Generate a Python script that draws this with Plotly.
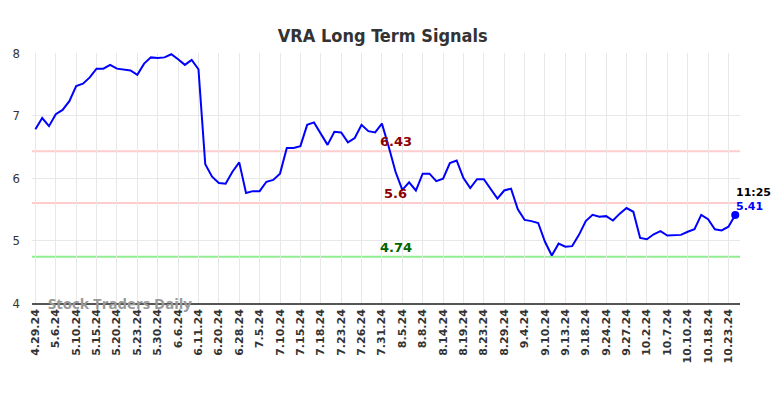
import plotly.graph_objects as go

tick_labels = ["4.29.24", "5.6.24", "5.10.24", "5.15.24", "5.20.24", "5.23.24", "5.30.24",
               "6.6.24", "6.11.24", "6.20.24", "6.28.24", "7.5.24", "7.10.24", "7.15.24",
               "7.18.24", "7.23.24", "7.26.24", "7.31.24", "8.5.24", "8.8.24", "8.14.24",
               "8.19.24", "8.23.24", "8.29.24", "9.4.24", "9.10.24", "9.13.24", "9.18.24",
               "9.24.24", "9.27.24", "10.2.24", "10.7.24", "10.10.24", "10.18.24", "10.23.24"]

prices = [6.78, 6.96, 6.83, 7.02, 7.09, 7.23, 7.47, 7.51, 7.61, 7.75,
          7.75, 7.81, 7.75, 7.74, 7.72, 7.65, 7.83, 7.93, 7.92, 7.93,
          7.98, 7.90, 7.81, 7.89, 7.74, 6.22, 6.02, 5.92, 5.91, 6.10,
          6.25, 5.76, 5.79, 5.79, 5.94, 5.97, 6.07, 6.48, 6.48, 6.51,
          6.85, 6.89, 6.71, 6.53, 6.74, 6.73, 6.57, 6.64, 6.85, 6.75,
          6.73, 6.87, 6.50, 6.10, 5.81, 5.93, 5.80, 6.07, 6.07, 5.95,
          5.99, 6.24, 6.28, 6.00, 5.84, 5.98, 5.98, 5.82, 5.67, 5.80,
          5.83, 5.50, 5.33, 5.31, 5.28, 4.98, 4.76, 4.95, 4.90, 4.91,
          5.09, 5.31, 5.41, 5.38, 5.39, 5.32, 5.43, 5.52, 5.46, 5.04,
          5.02, 5.10, 5.15, 5.08, 5.08, 5.09, 5.14, 5.18, 5.41, 5.34,
          5.18, 5.16, 5.22, 5.41]

resistance_high = 6.43
resistance_low = 5.6
support = 4.74
last_time = "11:25"
last_price = 5.41

x_idx = list(range(len(prices)))
tick_step = 3
tickvals = [i * tick_step for i in range(len(tick_labels))]

fig = go.Figure()
fig.add_trace(go.Scatter(x=x_idx, y=prices, mode="lines",
                         line=dict(color="#0000ff", width=2), hoverinfo="skip"))
fig.add_trace(go.Scatter(x=[x_idx[-1]], y=[prices[-1]], mode="markers",
                         marker=dict(color="#0000ff", size=8), hoverinfo="skip"))

for lvl, col in [(resistance_high, "#ffcccc"), (resistance_low, "#ffcccc"), (support, "#90ee90")]:
    fig.add_shape(type="line", xref="paper", x0=0, x1=1, yref="y", y0=lvl, y1=lvl,
                  line=dict(color=col, width=2), layer="below")

label_x = 53
for lvl, txt, col in [(resistance_high, "6.43", "#8b0000"), (resistance_low, "5.6", "#8b0000"),
                      (support, "4.74", "#006400")]:
    fig.add_annotation(x=label_x, y=lvl, text=txt, showarrow=False, yanchor="bottom", yshift=0,
                       font=dict(family="DejaVu Sans", size=13, color=col, weight="bold"))

fig.add_annotation(x=x_idx[-1], y=last_price, text=last_time, showarrow=False,
                   xanchor="left", yanchor="bottom", xshift=-1, yshift=14,
                   font=dict(family="DejaVu Sans", size=11, color="#000000", weight="bold"))
fig.add_annotation(x=x_idx[-1], y=last_price, text=f"{last_price:.2f}", showarrow=False,
                   xanchor="left", yanchor="bottom", xshift=-1, yshift=0,
                   font=dict(family="DejaVu Sans", size=11, color="#0000ff", weight="bold"))

fig.add_annotation(xref="paper", yref="y", x=0.02, y=4, text="Stock Traders Daily", showarrow=False,
                   xanchor="left", yanchor="middle",
                   font=dict(family="Open Sans", size=15, color="#999999", weight="bold"))

fig.update_layout(
    width=784, height=398,
    margin=dict(l=24, r=52, t=45, b=103),
    paper_bgcolor="white", plot_bgcolor="white",
    showlegend=False,
    title=dict(text="VRA Long Term Signals", x=0.478, xanchor="center", y=0.93, yanchor="middle",
               font=dict(family="DejaVu Sans Condensed", size=18, color="#333333", weight="bold")),
    xaxis=dict(range=[-0.5, 103.7], tickvals=tickvals, ticktext=tick_labels, tickangle=-90,
               showgrid=True, gridcolor="#e8e8e8", gridwidth=1, zeroline=False, automargin=False,
               showline=True, linecolor="#555555", linewidth=1.5, ticks="",
               tickfont=dict(family="DejaVu Sans", size=11, color="#333333", weight="bold")),
    yaxis=dict(range=[4, 8], tickvals=[4, 5, 6, 7, 8], showgrid=True, gridcolor="#e8e8e8",
               zeroline=False, showline=False, ticks="", ticklabelstandoff=11, automargin=False,
               tickfont=dict(family="DejaVu Sans Condensed", size=13, color="#333333")),
)

fig.write_html("out.html")
